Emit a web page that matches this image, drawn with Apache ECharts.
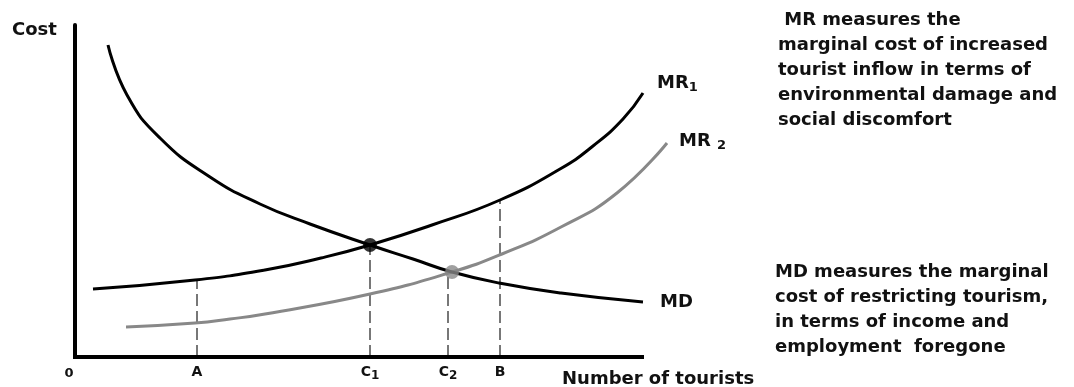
<!DOCTYPE html>
<html>
<head>
<meta charset="utf-8">
<script src="https://cdn.jsdelivr.net/npm/echarts@6/dist/echarts.min.js"></script>
<style>
html, body { margin: 0; padding: 0; background: #fff; }
#chart { width: 1074px; height: 387px; }
</style>
</head>
<body>
<div id="chart"></div>
<script>
// curve points, x = tourists, y = cost (arbitrary units)
var mdData = [[33, 312], [52, 262], [85, 219], [135, 180], [185, 153], [235, 133], [295, 112], [338, 98], [377, 85], [424, 74], [486, 64], [568, 55]];
var mr1Data = [[18, 68], [120, 77], [190, 87], [246, 99], [295, 112], [357, 132], [425, 157], [485, 188], [518, 211], [548, 238], [568, 264]];
var mr2Data = [[51, 30], [120, 34], [155, 38], [190, 43], [295, 63], [377, 85], [427, 103], [486, 130], [542, 164], [592, 214]];
var equilibria = [[295, 112], [377, 85]];
var dropX = [122, 295, 373, 425];
var dropTop = [77, 112, 85, 157];
var axisEnd = 567;
var tickValues = [0, 122, 295, 373, 425];
var tickNames = ['0', 'A', 'C', 'C', 'B'];
var tickSubs = ['', '', '1', '2', ''];
var curveNames = ['MR', 'MR', 'MD'];
var curveSubs = ['1', '2', ''];

var FONT = 'DejaVu Sans';
var dotColors = ['#000', '#888'];

var chart = echarts.init(document.getElementById('chart'));

function subLabel(name, sub, sep) {
	if (!sub) return '{a|' + name + '}';
	return '{a|' + name + sep + '}{s|' + sub + '}';
}

var curveRich = {
	a: { fontFamily: FONT, fontWeight: 'bold', fontSize: 18, color: '#111', lineHeight: 22 },
	s: { fontFamily: FONT, fontWeight: 'bold', fontSize: 13, color: '#111', lineHeight: 22, padding: [9, 0, 0, 0] }
};

var series = [];

// x axis baseline, stops short of the plot's right side
series.push({
	type: 'line',
	data: [[0, 0], [axisEnd, 0]],
	symbol: 'none',
	z: 4,
	lineStyle: { color: '#000', width: 4, cap: 'square' }
});

// dashed drop lines
dropX.forEach(function(x, i) {
	series.push({
		type: 'line',
		data: [[x, 0], [x, dropTop[i]]],
		symbol: 'none',
		z: 1,
		lineStyle: { color: '#777', width: 2, type: [12, 5] }
	});
});

var curves = [mr1Data, mr2Data, mdData];
var curveColors = ['#000', '#888', '#000'];
var labelOffsets = [[6, -10], [4, -2], [9, 0]];
curves.forEach(function(d, i) {
	series.push({
		type: 'line',
		data: d,
		smooth: 0.5,
		symbol: 'none',
		z: 2,
		lineStyle: { color: curveColors[i], width: 3 },
		endLabel: {
			show: true,
			offset: labelOffsets[i],
			formatter: subLabel(curveNames[i], curveSubs[i], i == 1 ? ' ' : ''),
			rich: curveRich
		}
	});
});

series.push({
	type: 'scatter',
	symbolSize: 14,
	z: 3,
	data: equilibria.map(function(p, i) {
		return { value: p, itemStyle: { color: dotColors[i] } };
	})
});

var option = {
	animation: false,
	grid: { left: 75, right: 399, top: 25, bottom: 30, outerBoundsMode: 'none' },
	xAxis: {
		type: 'value',
		min: 0,
		max: 600,
		axisLine: { show: false },
		axisTick: { show: false },
		splitLine: { show: false },
		axisLabel: {
			customValues: tickValues,
			margin: 7,
			formatter: function(v) {
				var i = tickValues.indexOf(v);
				if (i < 0) return '';
				if (i == 0) return '{z|0}';
				return tickSubs[i] ? '{c|' + tickNames[i] + '}{d|' + tickSubs[i] + '}' : '{c|' + tickNames[i] + '}';
			},
			rich: {
				z: { fontFamily: FONT, fontWeight: 'bold', fontSize: 13, color: '#111', padding: [3, 12, 0, 0] },
				c: { fontFamily: FONT, fontWeight: 'bold', fontSize: 14, color: '#111', lineHeight: 16 },
				d: { fontFamily: FONT, fontWeight: 'bold', fontSize: 12, color: '#111', lineHeight: 16, padding: [8, 0, 0, 0] }
			}
		}
	},
	yAxis: {
		type: 'value',
		min: 0,
		max: 332,
		axisLine: { show: true, lineStyle: { color: '#000', width: 4 } },
		axisTick: { show: false },
		axisLabel: { show: false },
		splitLine: { show: false }
	},
	graphic: [
		{ type: 'text', left: 12, top: 21, style: { text: 'Cost', font: 'bold 18px ' + FONT, fill: '#111' } },
		{ type: 'text', left: 562, top: 370, style: { text: 'Number of tourists', font: 'bold 18px ' + FONT, fill: '#111' } },
		{ type: 'text', left: 778, top: 8, style: {
			text: ' MR measures the\nmarginal cost of increased\ntourist inflow in terms of\nenvironmental damage and\nsocial discomfort',
			font: 'bold 18px ' + FONT, fill: '#111', lineHeight: 25 } },
		{ type: 'text', left: 775, top: 260, style: {
			text: 'MD measures the marginal\ncost of restricting tourism,\nin terms of income and\nemployment  foregone',
			font: 'bold 18px ' + FONT, fill: '#111', lineHeight: 25 } }
	],
	series: series
};

chart.setOption(option);
</script>
</body>
</html>
